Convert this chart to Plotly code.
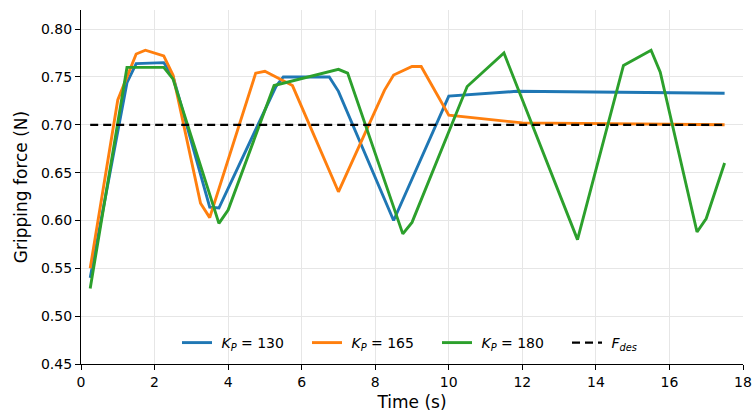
import plotly.graph_objects as go

# K_P = 130
t_130 = [0.25, 1.25, 1.5, 2.25, 2.5, 3.5, 3.75, 5.3, 5.5, 6.75, 7.0, 8.5, 10.0, 11.85, 17.5]
f_130 = [0.540, 0.744, 0.764, 0.765, 0.751, 0.614, 0.613, 0.740, 0.750, 0.750, 0.735, 0.600, 0.730, 0.735, 0.733]

# K_P = 165
t_165 = [0.25, 1.0, 1.5, 1.75, 2.25, 2.5, 3.25, 3.5, 4.75, 5.0, 5.75, 7.0, 8.25, 8.5, 9.0, 9.25, 10.0, 12.0, 17.5]
f_165 = [0.550, 0.726, 0.774, 0.778, 0.772, 0.752, 0.618, 0.603, 0.754, 0.756, 0.741, 0.630, 0.736, 0.752, 0.761, 0.761, 0.710, 0.702, 0.700]

# K_P = 180
t_180 = [0.25, 1.25, 2.25, 2.5, 3.75, 4.0, 5.25, 7.0, 7.25, 8.75, 9.0, 10.5, 11.5, 13.5, 14.75, 15.5, 15.75, 16.75, 17.0, 17.5]
f_180 = [0.529, 0.760, 0.760, 0.748, 0.597, 0.611, 0.741, 0.758, 0.754, 0.586, 0.598, 0.740, 0.775, 0.580, 0.762, 0.778, 0.755, 0.588, 0.602, 0.660]

# Desired force
t_des = [0.25, 17.5]
f_des = [0.70, 0.70]

names = ["\u00a0<i>K</i><sub><i>P</i></sub> = 130",
         "\u00a0<i>K</i><sub><i>P</i></sub> = 165",
         "\u00a0<i>K</i><sub><i>P</i></sub> = 180",
         "\u00a0<i>F</i><sub><i>des</i></sub>"]
colors = ["#1f77b4", "#ff7f0e", "#2ca02c", "black"]

fig = go.Figure()
for t, f, n, c in zip([t_130, t_165, t_180], [f_130, f_165, f_180], names[:3], colors[:3]):
    fig.add_trace(go.Scatter(x=t, y=f, mode="lines", name=n,
                             line=dict(color=c, width=2.9)))
fig.add_trace(go.Scatter(x=t_des, y=f_des, mode="lines", name=names[3],
                         line=dict(color="black", width=2.2, dash="8px,5px")))

font = "DejaVu Sans"
fig.update_layout(
    width=752, height=414,
    margin=dict(l=81, r=9, t=10, b=50),
    plot_bgcolor="white", paper_bgcolor="white",
    font=dict(family=font, size=14, color="black"),
    showlegend=True,
    legend=dict(orientation="h", x=(177 - 81) / 662, xanchor="left",
                y=(364 - 343) / 354, yanchor="middle",
                bgcolor="rgba(0,0,0,0)", font=dict(size=14),
                entrywidth=85, entrywidthmode="pixels", tracegroupgap=0),
)
fig.update_xaxes(range=[0, 18], dtick=2, tick0=0, automargin=False,
                 showgrid=True, gridcolor="#e6e6e6", gridwidth=1,
                 showline=True, linecolor="black", linewidth=1.2,
                 ticks="outside", ticklen=5, tickcolor="black",
                 zeroline=False,
                 title=dict(text="Time (s)", font=dict(size=17), standoff=7))
fig.update_yaxes(range=[0.45, 0.82], dtick=0.05, tick0=0.45, tickformat=".2f",
                 automargin=False,
                 showgrid=True, gridcolor="#e6e6e6", gridwidth=1,
                 showline=True, linecolor="black", linewidth=1.2,
                 ticks="outside", ticklen=5, tickcolor="black",
                 zeroline=False,
                 title=dict(text="Gripping force (N)", font=dict(size=17), standoff=8))

fig.write_html("out.html", config={"displayModeBar": False},
               post_script="document.body.style.margin='0';document.body.style.overflow='hidden';")
